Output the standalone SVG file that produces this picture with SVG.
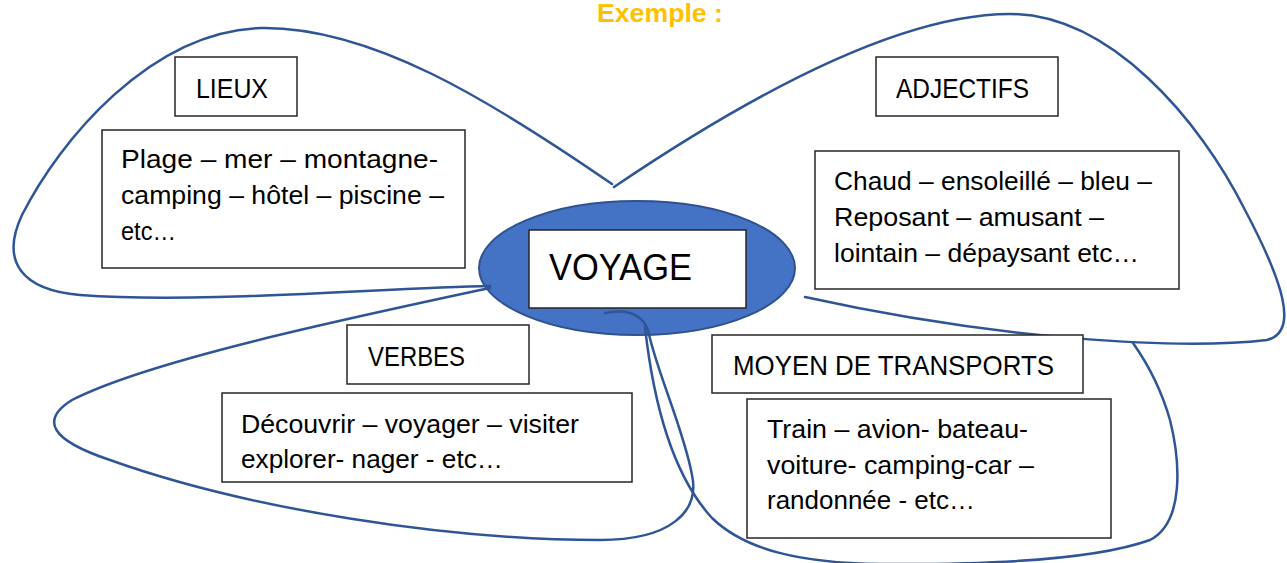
<svg xmlns="http://www.w3.org/2000/svg" width="1287" height="563" viewBox="0 0 1287 563">
<style>
  .box { fill: #ffffff; stroke: #262626; stroke-width: 1.5; }
  .t { font-family: "Liberation Sans", Arial, sans-serif; fill: #000000; }
  .hd { font-size: 28px; }
  .bd { font-size: 26px; }
  .loop { fill: none; stroke: #2F5597; stroke-width: 2.5; stroke-linecap: round; }
</style>
<rect width="1287" height="563" fill="#ffffff"/>
<text x="597" y="22" font-family="Liberation Sans, Arial, sans-serif" font-weight="bold" font-size="26" fill="#FFC000" textLength="126" lengthAdjust="spacingAndGlyphs">Exemple :</text>

<g id="center">
  <ellipse cx="637" cy="268" rx="158" ry="67" fill="#4472C4" stroke="#2F528F" stroke-width="2"/>
</g>

<g id="connectors">
  <path class="loop" d="M 612,184 C 490,100 370,26 260,28 C 150,32 60,140 22,215 C 0,262 22,290 80,295 C 200,304 380,288 490,286"/>
  <path class="loop" d="M 614,187 C 750,95 900,14 1010,14 C 1110,14 1200,120 1245,210 C 1282,280 1300,332 1267,340 C 1180,350 1000,340 805,297"/>
  <path class="loop" d="M 490,288 C 350,318 150,360 72,400 C 40,420 50,440 110,460 C 250,510 450,540 600,540 C 670,540 700,512 692,475 C 684,430 656,370 648,330 C 640,310 620,310 605,313"/>
  <path class="loop" d="M 645,327 C 652,390 668,470 712,518 C 745,550 800,563 880,564 C 1000,565 1100,558 1150,540 C 1185,522 1180,460 1170,420 C 1160,385 1145,360 1133,343"/>
</g>

<g id="voyage">
  <rect class="box" x="529" y="230" width="217" height="78"/>
  <text class="t" x="549" y="280" font-size="37" textLength="143" lengthAdjust="spacingAndGlyphs">VOYAGE</text>
</g>

<g id="lieux">
  <rect class="box" x="175" y="57" width="122" height="59"/>
  <text class="t hd" x="196" y="98" textLength="72" lengthAdjust="spacingAndGlyphs">LIEUX</text>
</g>
<g id="lieux-list">
  <rect class="box" x="102" y="130" width="363" height="138"/>
  <text class="t bd" x="121" y="168" textLength="317" lengthAdjust="spacingAndGlyphs">Plage – mer – montagne-</text>
  <text class="t bd" x="121" y="204" textLength="323" lengthAdjust="spacingAndGlyphs">camping – hôtel – piscine –</text>
  <text class="t bd" x="121" y="240" textLength="55" lengthAdjust="spacingAndGlyphs">etc…</text>
</g>

<g id="adjectifs">
  <rect class="box" x="876" y="57" width="182" height="59"/>
  <text class="t hd" x="896" y="98" textLength="133" lengthAdjust="spacingAndGlyphs">ADJECTIFS</text>
</g>
<g id="adjectifs-list">
  <rect class="box" x="815" y="151" width="364" height="138"/>
  <text class="t bd" x="834" y="190" textLength="318" lengthAdjust="spacingAndGlyphs">Chaud – ensoleillé – bleu –</text>
  <text class="t bd" x="834" y="226" textLength="270" lengthAdjust="spacingAndGlyphs">Reposant – amusant –</text>
  <text class="t bd" x="834" y="262" textLength="305" lengthAdjust="spacingAndGlyphs">lointain – dépaysant etc…</text>
</g>

<g id="verbes">
  <rect class="box" x="347" y="325" width="182" height="59"/>
  <text class="t hd" x="368" y="366" textLength="97" lengthAdjust="spacingAndGlyphs">VERBES</text>
</g>
<g id="verbes-list">
  <rect class="box" x="222" y="393" width="410" height="89"/>
  <text class="t bd" x="241" y="433" textLength="338" lengthAdjust="spacingAndGlyphs">Découvrir – voyager – visiter</text>
  <text class="t bd" x="241" y="468" textLength="262" lengthAdjust="spacingAndGlyphs">explorer- nager - etc…</text>
</g>

<g id="transports">
  <rect class="box" x="712" y="335" width="371" height="58"/>
  <text class="t hd" x="733" y="375" textLength="321" lengthAdjust="spacingAndGlyphs">MOYEN DE TRANSPORTS</text>
</g>
<g id="transports-list">
  <rect class="box" x="747" y="399" width="364" height="139"/>
  <text class="t bd" x="767" y="438" textLength="261" lengthAdjust="spacingAndGlyphs">Train – avion- bateau-</text>
  <text class="t bd" x="767" y="474" textLength="267" lengthAdjust="spacingAndGlyphs">voiture- camping-car –</text>
  <text class="t bd" x="767" y="509" textLength="208" lengthAdjust="spacingAndGlyphs">randonnée - etc…</text>
</g>
</svg>
